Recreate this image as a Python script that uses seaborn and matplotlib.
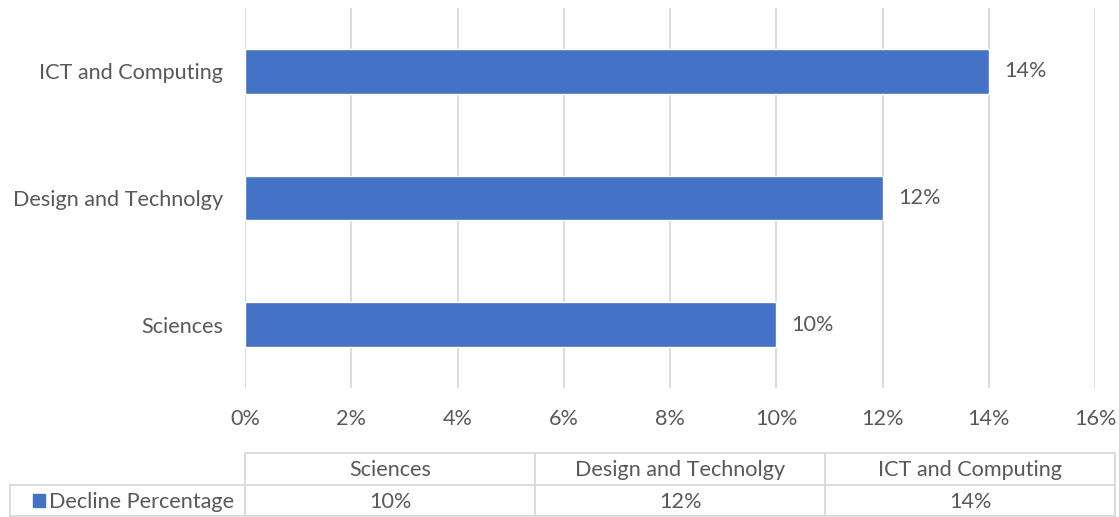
import matplotlib
matplotlib.use("Agg")
import matplotlib.pyplot as plt
import seaborn as sns
import pandas as pd
from matplotlib.lines import Line2D
from matplotlib.patches import Rectangle

categories = ["Sciences", "Design and Technolgy", "ICT and Computing"]
values = [10, 12, 14]
series_name = "Decline Percentage"
xticks = [0, 2, 4, 6, 8, 10, 12, 14, 16]

BLUE = "#4472C4"
TXT = "#595959"
GRID = "#D9D9D9"
FS = 15.6

sns.set_theme(style="white")
plt.rcParams["font.family"] = ["Lato", "DejaVu Sans"]

W, H = 1119, 517
fig = plt.figure(figsize=(W / 100, H / 100), dpi=100)

def fx(px):
    return px / W

def fy(py):
    return 1 - py / H

ax_l, ax_r, ax_t, ax_b = 245, 1095, 8, 388
ax = fig.add_axes([fx(ax_l), fy(ax_b), fx(ax_r - ax_l), (ax_b - ax_t) / H])

df = pd.DataFrame({"cat": categories, "val": values})
order = categories[::-1]
sns.barplot(data=df, x="val", y="cat", order=order, orient="h", color=BLUE,
            saturation=1, width=0.355, ax=ax, zorder=3)

ax.set_xlim(0, 16)
ax.set_xticks(xticks)
ax.set_xticklabels([f"{t}%" for t in xticks])
ax.set_xlabel("")
ax.set_ylabel("")
ax.grid(axis="x", color=GRID, linewidth=1.3, zorder=0)
ax.grid(axis="y", visible=False)
for s in ax.spines.values():
    s.set_visible(False)
ax.tick_params(axis="x", length=0, pad=15, labelsize=FS, labelcolor=TXT)
ax.tick_params(axis="y", length=0, pad=16, labelsize=FS, labelcolor=TXT)

for c in ax.containers:
    ax.bar_label(c, labels=[f"{v:.0f}%" for v in c.datavalues], padding=11,
                 fontsize=FS, color=TXT)

# data table below
tab = fig.add_axes([0, 0, 1, 1], facecolor="none")
tab.set_xlim(0, W)
tab.set_ylim(H, 0)
tab.axis("off")
row_top, row_mid, row_bot = 453, 485, 517
col_edges = [245, 535, 825, 1115]
lc = "#D9D9D9"
lw = 1.3
tab.add_line(Line2D([245, 1115], [row_top, row_top], color=lc, lw=lw))
tab.add_line(Line2D([10, 1115], [row_mid, row_mid], color=lc, lw=lw))
tab.add_line(Line2D([10, 1115], [row_bot - 1, row_bot - 1], color=lc, lw=lw))
for x in col_edges:
    tab.add_line(Line2D([x, x], [row_top, row_bot], color=lc, lw=lw))
tab.add_line(Line2D([10, 10], [row_mid, row_bot], color=lc, lw=lw))

for i, cat in enumerate(categories):
    cx = (col_edges[i] + col_edges[i + 1]) / 2
    tab.text(cx, (row_top + row_mid) / 2 + 1, cat, ha="center", va="center",
             fontsize=FS, color=TXT)
    tab.text(cx, (row_mid + row_bot) / 2 + 1, f"{values[i]}%", ha="center",
             va="center", fontsize=FS, color=TXT)

tab.add_patch(Rectangle((33, 494), 12, 13, color=BLUE))
tab.text(49, (row_mid + row_bot) / 2 + 1, series_name, ha="left", va="center",
         fontsize=FS, color=TXT)

fig.savefig("out.png", dpi=100)
